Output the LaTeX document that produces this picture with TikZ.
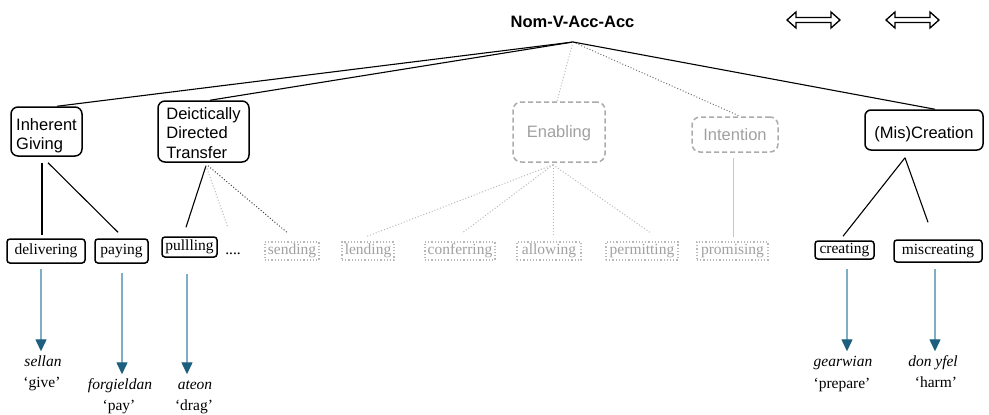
\documentclass[tikz,border=0pt]{standalone}
\usepackage{fontspec}
\setmainfont{Liberation Serif}
\setsansfont{Liberation Sans}
\usetikzlibrary{arrows.meta}
\definecolor{boxgray}{HTML}{ABABAB}
\definecolor{txtgray}{HTML}{A0A0A0}
\definecolor{dotgray}{HTML}{B8B8B8}
\definecolor{shaftblue}{HTML}{7FAEC6}
\definecolor{headblue}{HTML}{1C5F7E}
\tikzset{
  topbox/.style={draw, rounded corners=7pt, line width=1.5pt, align=left, inner sep=2pt,
    font=\sffamily\fontsize{16.5}{19.5}\selectfont},
  topghost/.style={draw=boxgray, dash pattern=on 5pt off 3pt, rounded corners=8pt, line width=1.5pt,
    text=txtgray, align=center, inner sep=2pt, font=\sffamily\fontsize{16.5}{19.5}\selectfont},
  leafbox/.style={draw, rounded corners=3pt, line width=1.5pt, inner sep=1pt,
    font=\fontsize{15.5}{18}\selectfont},
  leafghost/.style={draw=dotgray, dotted, line width=1.2pt, text=txtgray, inner sep=1pt,
    font=\fontsize{15.5}{18}\selectfont},
  word/.style={inner sep=0pt, text height=10.5pt, anchor=base, font=\fontsize{15.5}{18}\selectfont\itshape},
  gloss/.style={inner sep=0pt, anchor=base, font=\fontsize{15.5}{18}\selectfont},
  conn/.style={line width=1.1pt},
  ghostconn/.style={line width=1pt, dotted, color=dotgray},
  darkdots/.style={line width=1pt, dotted, color=black!75},
  barrow/.style={line width=1.3pt, color=shaftblue, shorten >=4pt,
    -{Triangle[length=12pt,width=11pt,fill=headblue,color=headblue]}},
  dblarrow/.style={line width=1.3pt, fill=white, line join=miter},
}
\begin{document}
\begin{tikzpicture}[x=1pt,y=-1pt]
\useasboundingbox (0,0) rectangle (989,415);

% title
\node[font=\sffamily\bfseries\fontsize{16.5}{19.5}\selectfont, inner sep=0pt] (title) at (572.5,22) {Nom-V-Acc-Acc};
\coordinate (apex) at (573,42);

% double arrows
\coordinate (da1) at (787,20);
\coordinate (da2) at (886,20);
\draw[dblarrow] (da1) -- ++(9,-8) -- ++(0,5.5) -- ++(35,0) -- ++(0,-5.5) -- ++(9,8) -- ++(-9,8) -- ++(0,-5.5) -- ++(-35,0) -- ++(0,5.5) -- cycle;
\draw[dblarrow] (da2) -- ++(9,-8) -- ++(0,5.5) -- ++(35,0) -- ++(0,-5.5) -- ++(9,8) -- ++(-9,8) -- ++(0,-5.5) -- ++(-35,0) -- ++(0,5.5) -- cycle;

% level 1
\node[topbox, minimum width=71pt, minimum height=49pt] (ig) at (46.5,131.5) {\rule{0pt}{20pt}Inherent\\Giving};
\node[topbox, minimum width=91pt, minimum height=61pt] (ddt) at (203.5,131.5) {\rule{0pt}{15pt}Deictically\\Directed\\Transfer};
\node[topghost, minimum width=92pt, minimum height=60pt] (en) at (559,132) {\rule{0pt}{15pt}Enabling};
\node[topghost, minimum width=86pt, minimum height=35pt] (int) at (735,134.5) {Intention};
\node[topbox, minimum width=118pt, minimum height=40pt, rounded corners=6pt] (mc) at (924,130) {\rule{0pt}{20pt}(Mis)Creation};

% level 2
\node[leafbox, minimum width=78pt, minimum height=24pt] (deliv) at (46,251) {delivering};
\node[leafbox, minimum width=53pt, minimum height=24pt] (pay) at (121.5,251) {paying};
\node[leafbox, minimum width=55pt, minimum height=20pt] (pull) at (189.5,247) {pullling};
\node[inner sep=0pt, text height=10pt, anchor=base, font=\fontsize{15.5}{18}\selectfont] (dots) at (233,254) {....};
\node[leafghost, minimum width=54pt, minimum height=18pt] (send) at (292,251) {sending};
\node[leafghost, minimum width=52pt, minimum height=18pt] (lend) at (368,251) {lending};
\node[leafghost, minimum width=70pt, minimum height=18pt] (conf) at (460,251) {conferring};
\node[leafghost, minimum width=64pt, minimum height=18pt] (allow) at (549,251) {allowing};
\node[leafghost, minimum width=72pt, minimum height=18pt] (perm) at (642,251) {permitting};
\node[leafghost, minimum width=71pt, minimum height=18pt] (prom) at (732.5,251) {promising};
\node[leafbox, minimum width=59pt, minimum height=18pt] (creat) at (844.5,250) {creating};
\node[leafbox, minimum width=88pt, minimum height=22pt] (miscr) at (938,251) {miscreating};

% words and glosses
\node[word] (sellan) at (43,366) {sellan};
\node[gloss] (give) at (42,387) {‘give’};
\node[word] (forg) at (120,389) {forgieldan};
\node[gloss] (payg) at (119,410) {‘pay’};
\node[word] (ateon) at (195,389) {ateon};
\node[gloss] (drag) at (194,410) {‘drag’};
\node[word] (gear) at (843,366) {gearwian};
\node[gloss] (prep) at (842,388) {‘prepare’};
\node[word] (donyfel) at (933,366) {don yfel};
\node[gloss] (harm) at (936,387) {‘harm’};

% top connectors
\draw[conn] (apex) -- ([xshift=10.5pt]ig.north);
\draw[conn] (apex) -- ([xshift=6.5pt]ddt.north);
\draw[ghostconn] (apex) -- ([xshift=-2pt]en.north);
\draw[line width=1pt, dotted, color=black!55] (apex) -- ([xshift=5pt]int.north);
\draw[conn] (apex) -- ([xshift=11pt]mc.north);

% inherent giving
\draw[conn] ([xshift=-4.5pt,yshift=-6pt]ig.south) -- ([xshift=-4pt,yshift=3pt]deliv.north);
\draw[conn] ([xshift=1.5pt,yshift=-6pt]ig.south) -- ([xshift=-3.5pt,yshift=6pt]pay.north);

% deictically directed transfer
\draw[conn] ([xshift=2.5pt,yshift=-3pt]ddt.south) -- ([xshift=-3.5pt,yshift=9pt]pull.north);
\draw[ghostconn] ([xshift=2.5pt,yshift=-3pt]ddt.south) -- ([xshift=-5pt,yshift=16pt]dots.north);
\draw[darkdots] ([xshift=4.5pt,yshift=-3pt]ddt.south) -- ([xshift=-5pt,yshift=9pt]send.north);

% enabling
\draw[ghostconn] ([xshift=-6pt,yshift=-2pt]en.south) -- ([xshift=-1pt,yshift=5pt]lend.north);
\draw[ghostconn] ([xshift=-6pt,yshift=-2pt]en.south) -- ([xshift=3pt,yshift=9pt]conf.north);
\draw[ghostconn] ([xshift=-6pt,yshift=-2pt]en.south) -- ([xshift=4pt,yshift=7pt]allow.north);
\draw[ghostconn] ([xshift=-6pt,yshift=-2pt]en.south) -- ([xshift=8pt,yshift=9pt]perm.north);

% intention
\draw[line width=1pt, color=black!22] ([xshift=-2pt,yshift=-5pt]int.south) -- ([xshift=0.5pt,yshift=4pt]prom.north);

% creation
\draw[conn] ([xshift=-19pt,yshift=-7pt]mc.south) -- ([xshift=-1.5pt,yshift=4pt]creat.north);
\draw[conn] ([xshift=-19pt,yshift=-7pt]mc.south) -- ([xshift=-10pt,yshift=17pt]miscr.north);

% blue arrows
\draw[barrow] ([xshift=-5pt,yshift=-5pt]deliv.south) -- ([xshift=-5pt]deliv.south |- sellan.north);
\draw[barrow] ([xshift=0.5pt,yshift=-9pt]pay.south) -- ([xshift=0.5pt]pay.south |- forg.north);
\draw[barrow] ([xshift=-2.5pt,yshift=-16pt]pull.south) -- ([xshift=-2.5pt]pull.south |- ateon.north);
\draw[barrow] ([xshift=2.5pt,yshift=-9pt]creat.south) -- ([xshift=2.5pt]creat.south |- gear.north);
\draw[barrow] ([xshift=-3pt,yshift=-6pt]miscr.south) -- ([xshift=-3pt]miscr.south |- donyfel.north);
\end{tikzpicture}
\end{document}
